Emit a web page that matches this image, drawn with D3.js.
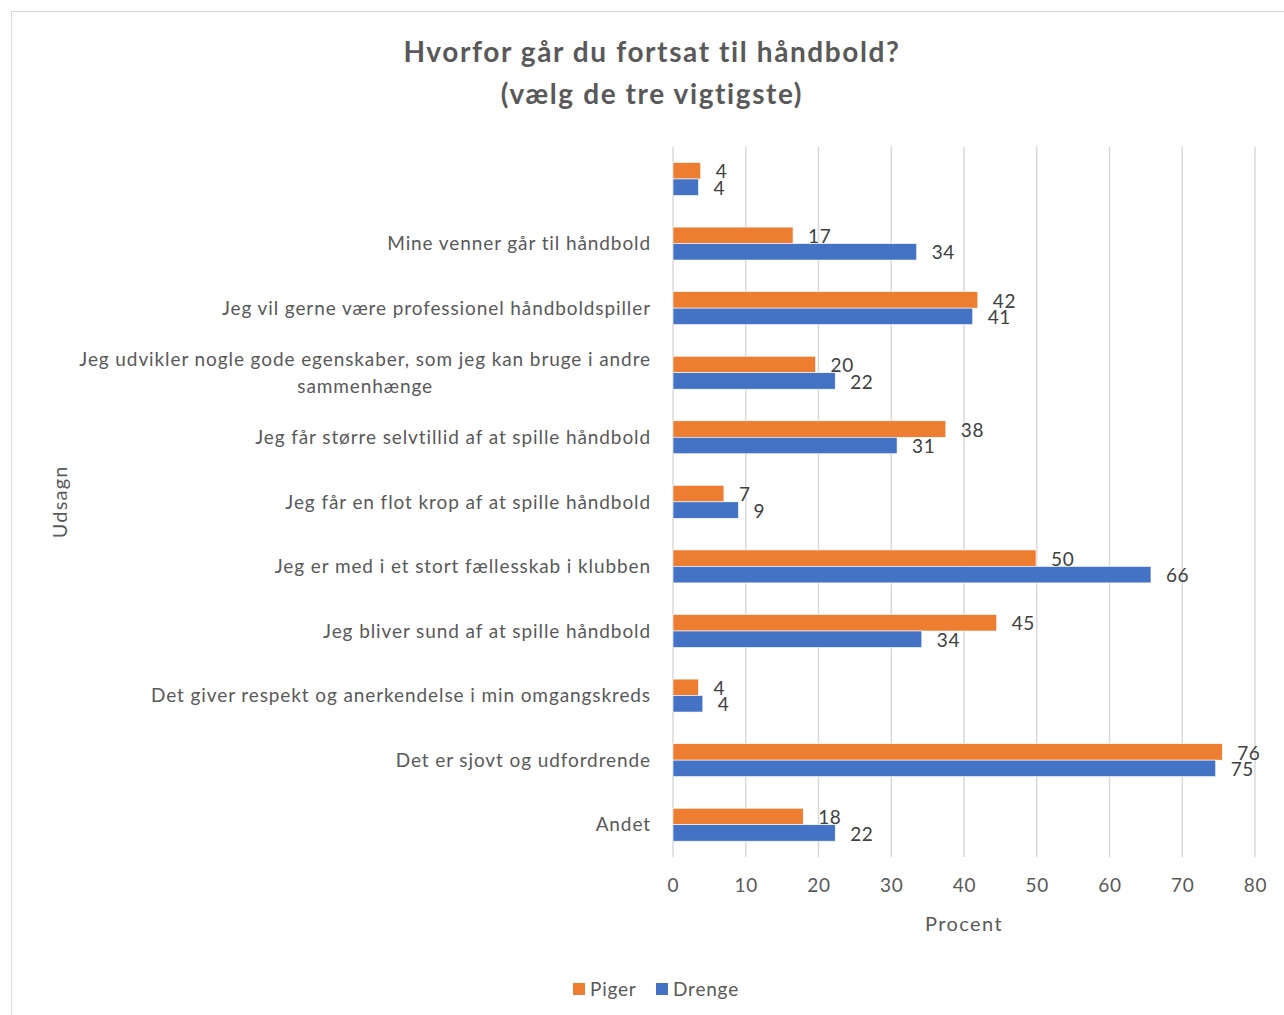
<!DOCTYPE html>
<html>
  <head>
    <meta charset="utf-8">
    <title>Hvorfor går du fortsat til håndbold?</title>
    <script src="https://d3js.org/d3.v7.min.js"></script>
    <style>
      body{
        margin: 0;
        background: #fff;
      }
      text{
        font-family: Lato, "Open Sans", sans-serif;
      }
    </style>
  </head>
  <body>
    <div id="container"></div>
    <script>

      // DATA (top to bottom, as in the picture)
      const categories = [
        "",
        "Mine venner går til håndbold",
        "Jeg vil gerne være professionel håndboldspiller",
        "Jeg udvikler nogle gode egenskaber, som jeg kan bruge i andre\nsammenhænge",
        "Jeg får større selvtillid af at spille håndbold",
        "Jeg får en flot krop af at spille håndbold",
        "Jeg er med i et stort fællesskab i klubben",
        "Jeg bliver sund af at spille håndbold",
        "Det giver respekt og anerkendelse i min omgangskreds",
        "Det er sjovt og udfordrende",
        "Andet"
      ];
      const piger  = [3.8, 16.5, 41.9, 19.6, 37.5, 7.0, 49.9, 44.5, 3.5, 75.5, 17.9];
      const drenge = [3.5, 33.5, 41.2, 22.3, 30.8, 9.0, 65.7, 34.2, 4.1, 74.6, 22.3];
      const seriesNames = ["Piger", "Drenge"];
      const xTicks = [0, 10, 20, 30, 40, 50, 60, 70, 80];

      const colors = { Piger: "#ED7D31", Drenge: "#4472C4" };

      // SIZE
      const W = 1284, H = 1015;
      const plot = { left: 673, right: 1255, top: 146.7, bottom: 857 };

      const svg = d3.select("#container")
        .append("svg")
        .attr("width", W)
        .attr("height", H);

      // chart border
      svg.append("rect")
        .attr("x", 11.5).attr("y", 11.5)
        .attr("width", 1300).attr("height", 1100)
        .attr("fill", "none")
        .attr("stroke", "#d9d9d9")
        .attr("stroke-width", 1);

      // TITLE
      const title = svg.append("text")
        .attr("text-anchor", "middle")
        .attr("fill", "#595959")
        .attr("font-weight", 700)
        .attr("font-size", 28)
        .style("letter-spacing", "1.6px");
      title.append("tspan").attr("x", 652).attr("y", 62).text("Hvorfor går du fortsat til håndbold?");
      title.append("tspan").attr("x", 652).attr("y", 104).text("(vælg de tre vigtigste)");

      // SCALES
      const x = d3.scaleLinear()
        .domain([0, 80])
        .range([plot.left, plot.right]);

      const y = d3.scaleBand()
        .domain(d3.range(categories.length))
        .range([plot.top, plot.bottom])
        .paddingInner(0.49)
        .paddingOuter(0.245);

      const ySub = d3.scaleBand()
        .domain(seriesNames)
        .range([0, y.bandwidth()]);

      // GRIDLINES
      svg.append("g")
        .selectAll("line")
        .data(xTicks)
        .join("line")
        .attr("x1", d => x(d)).attr("x2", d => x(d))
        .attr("y1", plot.top).attr("y2", plot.bottom)
        .attr("stroke", "#d9d9d9")
        .attr("stroke-width", 1.5);

      // X AXIS (labels only)
      const xAxis = svg.append("g")
        .attr("transform", "translate(0," + plot.bottom + ")")
        .call(d3.axisBottom(x).tickValues(xTicks).tickSize(0).tickPadding(22));
      xAxis.select(".domain").remove();
      xAxis.selectAll("text")
        .attr("fill", "#595959")
        .attr("font-size", 19)
        .style("letter-spacing", "0.8px")
        .style("font-family", "Lato, 'Open Sans', sans-serif");

      // Y AXIS LABELS
      const yLab = svg.append("g");
      categories.forEach((c, i) => {
        const lines = c.split("\n");
        const cy = y(i) + y.bandwidth() / 2;
        const t = yLab.append("text")
          .attr("fill", "#595959")
          .attr("font-size", 19)
          .style("letter-spacing", "0.9px")
          .attr("text-anchor", "middle");
        const lh = 27;
        lines.forEach((ln, k) => {
          t.append("tspan")
            .attr("y", cy + (k - (lines.length - 1) / 2) * lh)
            .attr("dy", "0.35em")
            .text(ln);
        });
        // right align the block, center lines inside it
        let maxW = 0;
        t.selectAll("tspan").each(function () {
          maxW = Math.max(maxW, this.getComputedTextLength());
        });
        t.selectAll("tspan").attr("x", 651 - maxW / 2);
      });

      // BARS
      const rows = categories.map((c, i) => ({ i, Piger: piger[i], Drenge: drenge[i] }));

      const groups = svg.append("g")
        .selectAll("g")
        .data(rows)
        .join("g")
        .attr("transform", d => "translate(0," + y(d.i) + ")");

      groups.selectAll("rect")
        .data(d => seriesNames.map(s => ({ s, v: d[s] })))
        .join("rect")
        .attr("x", x(0))
        .attr("y", d => ySub(d.s))
        .attr("width", d => x(d.v) - x(0))
        .attr("height", ySub.bandwidth())
        .attr("fill", d => colors[d.s])
        .attr("stroke", "#fff")
        .attr("stroke-width", 0.6);

      // DATA LABELS
      groups.selectAll("text")
        .data(d => seriesNames.map(s => ({ s, v: d[s] })))
        .join("text")
        .attr("x", d => x(d.v) + 15)
        .attr("y", d => ySub(d.s) + ySub.bandwidth() / 2 + 1)
        .attr("dy", "0.35em")
        .attr("fill", "#404040")
        .attr("font-size", 19)
        .style("letter-spacing", "0.6px")
        .text(d => d.v.toFixed(0));

      // AXIS TITLES
      svg.append("text")
        .attr("x", (plot.left + plot.right) / 2)
        .attr("y", 931)
        .attr("text-anchor", "middle")
        .attr("fill", "#595959")
        .attr("font-size", 20)
        .style("letter-spacing", "1.4px")
        .text("Procent");

      svg.append("text")
        .attr("transform", "translate(67," + (plot.top + plot.bottom) / 2 + ") rotate(-90)")
        .attr("text-anchor", "middle")
        .attr("fill", "#595959")
        .attr("font-size", 20)
        .style("letter-spacing", "1.2px")
        .text("Udsagn");

      // LEGEND
      const legend = svg.append("g");
      const legendX = [573, 656];
      seriesNames.forEach((s, k) => {
        legend.append("rect")
          .attr("x", legendX[k]).attr("y", 983)
          .attr("width", 12).attr("height", 12)
          .attr("fill", colors[s]);
        legend.append("text")
          .attr("x", legendX[k] + 17).attr("y", 989)
          .attr("dy", "0.35em")
          .attr("fill", "#595959")
          .attr("font-size", 19)
          .style("letter-spacing", "0.8px")
          .text(s);
      });

    </script>
  </body>
</html>
